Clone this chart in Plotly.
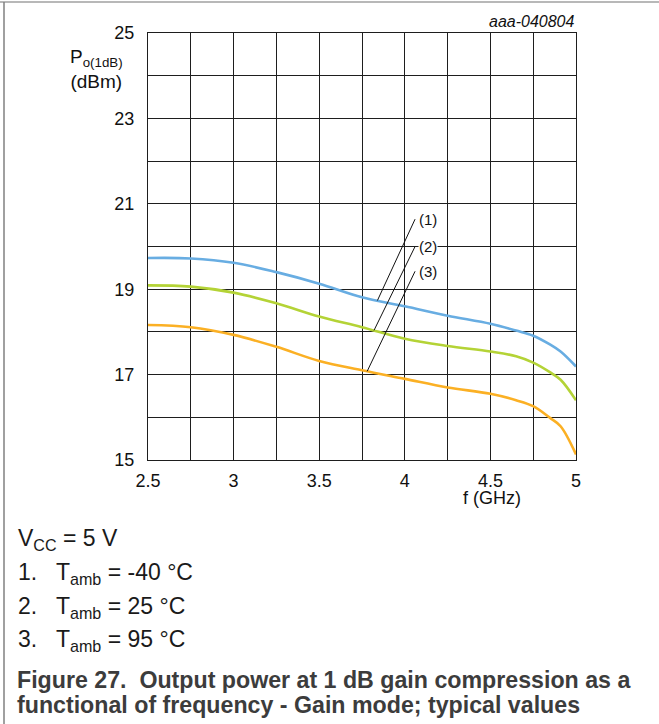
import numpy as np
import plotly.graph_objects as go

# Frequency sweep (GHz) and 1 dB compression output power (dBm) per temperature
freq = [2.5, 2.75, 3.0, 3.25, 3.5, 3.75, 4.0, 4.25, 4.5, 4.65, 4.75, 4.85, 4.91, 5.0]
p_m40 = [19.73, 19.72, 19.62, 19.40, 19.13, 18.81, 18.60, 18.38, 18.19, 18.03, 17.91, 17.70, 17.54, 17.19]
p_25 = [19.09, 19.06, 18.92, 18.67, 18.36, 18.11, 17.84, 17.67, 17.54, 17.43, 17.28, 17.05, 16.88, 16.40]
p_95 = [18.16, 18.11, 17.93, 17.65, 17.32, 17.10, 16.90, 16.70, 16.55, 16.40, 16.26, 15.98, 15.79, 15.13]

series_labels = ["(1)", "(2)", "(3)"]
series_values = [p_m40, p_25, p_95]
series_colors = ["#68ade2", "#b4d336", "#fbb024"]
leader_f = [3.84, 3.82, 3.78]          # where each leader line touches its curve
label_pos = [(4.06, 20.64), (4.06, 20.0), (4.06, 19.42)]

x_ticks = [2.5, 3, 3.5, 4, 4.5, 5]
y_ticks = [15, 17, 19, 21, 23, 25]

W, H = 659, 724
L, R, T, B = 148, 576, 33, 460
FONT = "Arial, Liberation Sans, sans-serif"


def px(x):
    return (x - L) / (R - L)


def py(y):
    return (B - y) / (B - T)


fig = go.Figure()
for vals, col in zip(series_values, series_colors):
    fig.add_trace(go.Scatter(x=freq, y=vals, mode="lines",
                             line=dict(color=col, width=2.6, shape="spline", smoothing=1.0),
                             hoverinfo="skip", showlegend=False))

annotations = []
shapes = []
for lab, vals, f0, (lx, ly) in zip(series_labels, series_values, leader_f, label_pos):
    y0 = float(np.interp(f0, freq, vals))
    shapes.append(dict(type="line", xref="x", yref="y", x0=f0, y0=y0, x1=lx, y1=ly,
                       line=dict(color="#111", width=1)))
    annotations.append(dict(x=lx, y=ly, xref="x", yref="y", text=lab, showarrow=False,
                            xanchor="left", yanchor="middle", xshift=3,
                            font=dict(family=FONT, size=15, color="#111"),
                            bgcolor="white", borderpad=0))

# Axis title and figure id
annotations.append(dict(x=px(96), y=py(69), xref="paper", yref="paper",
                        text="P<sub>o(1dB)</sub><br>(dBm)", showarrow=False,
                        xanchor="center", yanchor="middle", align="center",
                        font=dict(family=FONT, size=19, color="#111")))
annotations.append(dict(x=px(577), y=py(22), xref="paper", yref="paper",
                        text="<i>aaa-040804</i>", showarrow=False,
                        xanchor="right", yanchor="middle",
                        font=dict(family=FONT, size=16, color="#111")))
annotations.append(dict(x=px(492), y=py(498), xref="paper", yref="paper",
                        text="f (GHz)", showarrow=False,
                        xanchor="center", yanchor="middle",
                        font=dict(family=FONT, size=18, color="#111")))

# Conditions and caption
notes = [("V<sub>CC</sub> = 5 V", 539),
         ("1.   T<sub>amb</sub> = -40 °C", 573),
         ("2.   T<sub>amb</sub> = 25 °C", 607),
         ("3.   T<sub>amb</sub> = 95 °C", 640)]
for txt, yy in notes:
    annotations.append(dict(x=px(16), y=py(yy), xref="paper", yref="paper",
                            text=txt, showarrow=False, xanchor="left", yanchor="middle",
                            font=dict(family=FONT, size=23, color="#1a1a1a")))
caption = [("<b>Figure 27.  Output power at 1 dB gain compression as a</b>", 680),
           ("<b>functional of frequency - Gain mode; typical values</b>", 705)]
for txt, yy in caption:
    annotations.append(dict(x=px(15), y=py(yy), xref="paper", yref="paper",
                            text=txt, showarrow=False, xanchor="left", yanchor="middle",
                            font=dict(family=FONT, size=23.2, color="#3c3c3c")))

# Outer frame (top and left edges)
shapes.append(dict(type="line", xref="paper", yref="paper", x0=px(0), x1=px(W),
                   y0=py(2), y1=py(2), line=dict(color="#a0a0a0", width=1.5)))
shapes.append(dict(type="line", xref="paper", yref="paper", x0=px(4), x1=px(4),
                   y0=py(2), y1=py(H), line=dict(color="#808080", width=1.5)))

grid = "#1e1e1e"
fig.update_layout(
    width=W, height=H, autosize=False,
    margin=dict(l=L, r=W - R, t=T, b=H - B),
    paper_bgcolor="white", plot_bgcolor="white",
    showlegend=False,
    annotations=annotations, shapes=shapes,
    xaxis=dict(range=[2.5, 5], tickvals=x_ticks, ticktext=[str(v) for v in x_ticks],
               showgrid=True, gridcolor=grid, gridwidth=1,
               minor=dict(dtick=0.25, tick0=2.5, showgrid=True, gridcolor=grid, gridwidth=1),
               showline=True, linecolor=grid, linewidth=1, mirror=True,
               ticks="", ticklabelstandoff=4, zeroline=False,
               tickfont=dict(family=FONT, size=18, color="#111")),
    yaxis=dict(range=[15, 25], tickvals=y_ticks, ticktext=[str(v) for v in y_ticks],
               showgrid=True, gridcolor=grid, gridwidth=1,
               minor=dict(dtick=1, tick0=15, showgrid=True, gridcolor=grid, gridwidth=1),
               showline=True, linecolor=grid, linewidth=1, mirror=True,
               ticks="", ticklabelstandoff=9, zeroline=False,
               tickfont=dict(family=FONT, size=18, color="#111")),
)

fig.write_html("out.html")
